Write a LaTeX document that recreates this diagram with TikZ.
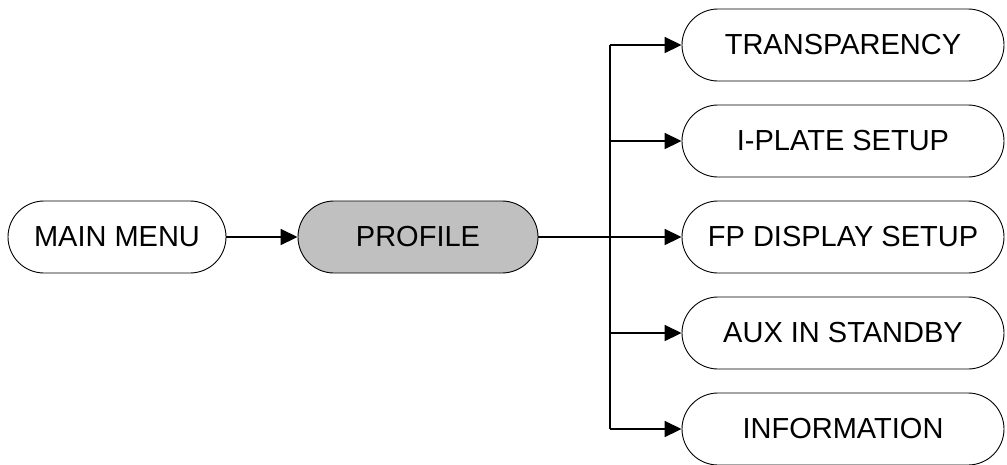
\documentclass[tikz,border=0pt]{standalone}
\usepackage{fontspec}
\setmainfont{Liberation Sans}
\usetikzlibrary{arrows.meta}
\definecolor{boxgray}{HTML}{C0C0C0}
\begin{document}
\begin{tikzpicture}[x=1pt,y=-1pt,
  menu/.style={draw, line width=0.9pt, rounded corners=36pt, minimum height=72pt,
    inner sep=0pt, font=\fontsize{29}{29}\selectfont},
  wire/.style={line width=1.8pt},
  link/.style={wire, -{Triangle[length=17pt,width=16pt]}}]
\useasboundingbox (0,0) rectangle (1007,464);
\node[menu, minimum width=218pt] (main) at (117,237) {MAIN MENU};
\node[menu, minimum width=240pt, fill=boxgray] (prof) at (418,237) {PROFILE};
\node[menu, minimum width=322pt] (trans) at (843,45) {TRANSPARENCY};
\node[menu, minimum width=322pt] (iplate) at (843,141) {I-PLATE SETUP};
\node[menu, minimum width=322pt] (fp) at (843,237) {FP DISPLAY SETUP};
\node[menu, minimum width=322pt] (aux) at (843,333) {AUX IN STANDBY};
\node[menu, minimum width=322pt] (info) at (843,429) {INFORMATION};
\coordinate (t) at (610,237);
\draw[link] (main) -- (prof);
\draw[link] (prof) -- (fp);
\draw[wire] (trans.west -| t) -- (info.west -| t);
\draw[link] (trans.west -| t) -- (trans.west);
\draw[link] (iplate.west -| t) -- (iplate.west);
\draw[link] (aux.west -| t) -- (aux.west);
\draw[link] (info.west -| t) -- (info.west);
\end{tikzpicture}
\end{document}
